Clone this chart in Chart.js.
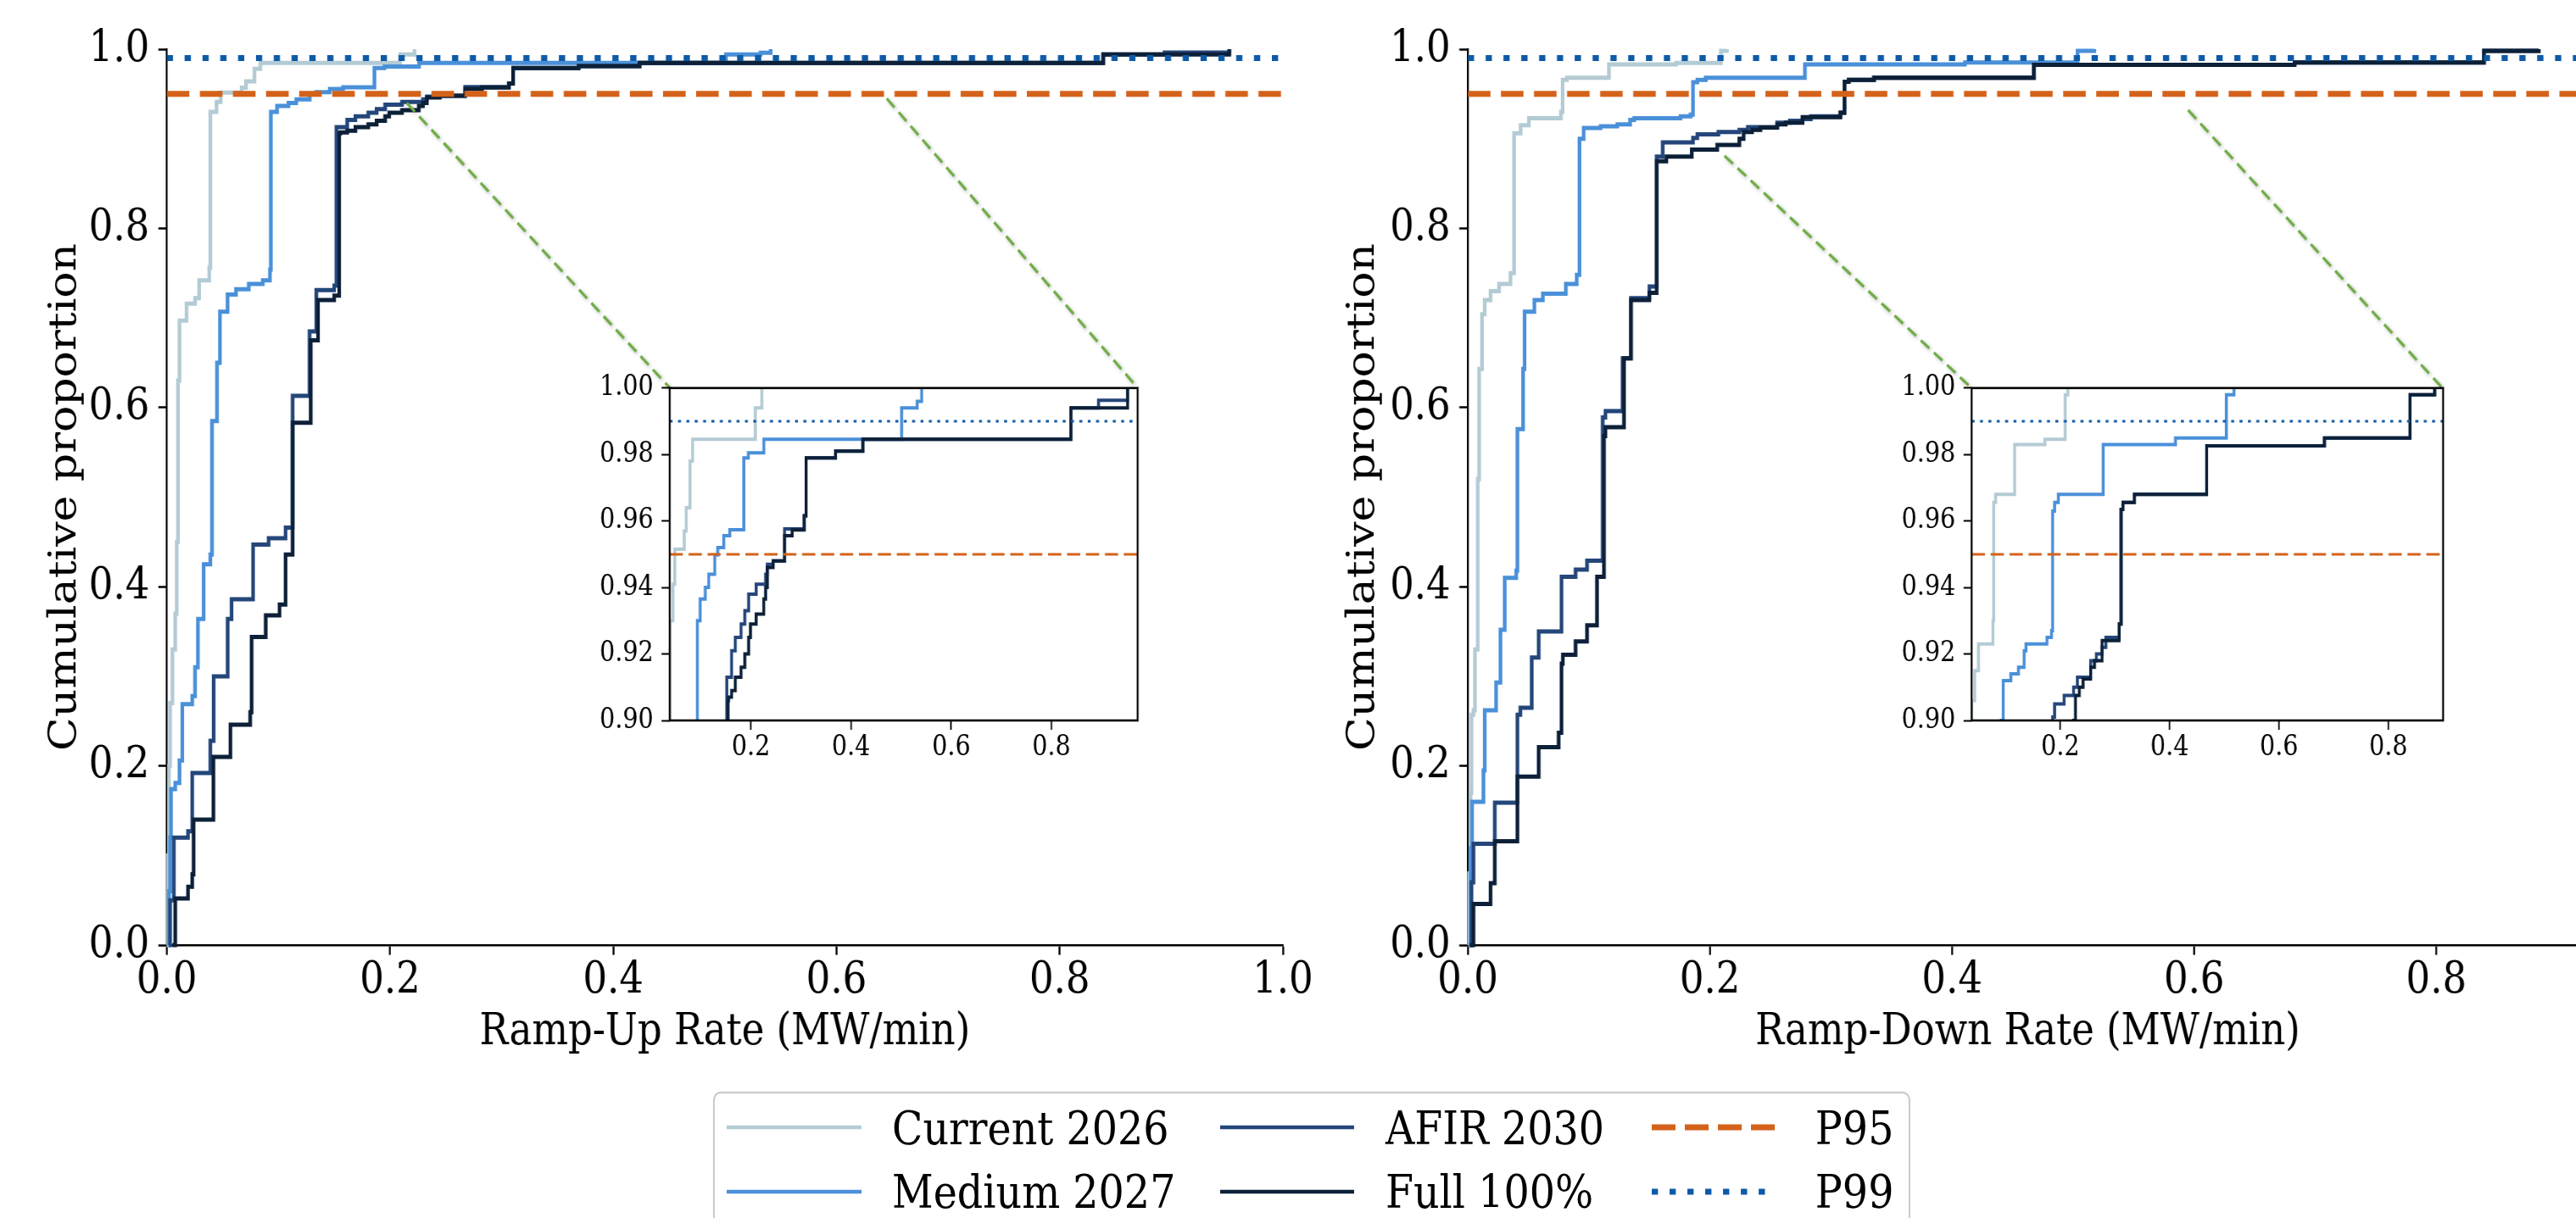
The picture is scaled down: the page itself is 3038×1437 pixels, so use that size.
<!DOCTYPE html>
<html>
<head>
<meta charset="utf-8">
<script src="https://cdn.jsdelivr.net/npm/chart.js@4.4.0/dist/chart.umd.min.js"></script>
<style>
html, body { margin: 0; padding: 0; background: #fff; overflow: hidden; width: 3038px; height: 1437px; }
#fig { position: absolute; left: 0; top: 0; width: 3512px; height: 1437px; transform: scale(0.865, 1); transform-origin: 0 0; }
#fig canvas { position: absolute; }
#fig svg { position: absolute; left: 0; top: 0; }
</style>
</head>
<body>
<div id="fig"></div>
<script>
// figure is laid out wide, then squeezed horizontally like the original
const FONT = 'DejaVu Serif';

const seriesNames = ['Current 2026', 'Medium 2027', 'AFIR 2030', 'Full 100%'];
const seriesColors = ['#b3cbd4', '#4a90d9', '#24467a', '#0c2038'];
const p95Color = '#d4621a';
const p99Color = '#0d5aa7';
const connColor = '#70ad47';
const p95 = 0.95;
const p99 = 0.99;

// ---- Ramp-Up: empirical CDF steps ----
const upCurrentX = [0.000, 0.001, 0.002, 0.003, 0.005, 0.0076, 0.0089, 0.010, 0.0114, 0.0177, 0.0253, 0.029, 0.038, 0.039, 0.0445, 0.0483, 0.067, 0.071, 0.0785, 0.0838, 0.209, 0.222];
const upCurrentY = [0.0, 0.10, 0.20, 0.27, 0.33, 0.37, 0.45, 0.63, 0.697, 0.716, 0.722, 0.742, 0.756, 0.93, 0.941, 0.9515, 0.957, 0.964, 0.978, 0.9846, 0.994, 1.0];

const upMediumX = [0.001, 0.002, 0.003, 0.0038, 0.0076, 0.0114, 0.0139, 0.0228, 0.0253, 0.0279, 0.033, 0.039, 0.0405, 0.045, 0.0476, 0.0544, 0.062, 0.0734, 0.086, 0.0924, 0.0932, 0.0988, 0.109, 0.116, 0.128, 0.134, 0.146, 0.158, 0.186, 0.195, 0.226, 0.501, 0.532, 0.541];
const upMediumY = [0.0, 0.06, 0.12, 0.174, 0.181, 0.206, 0.269, 0.278, 0.31, 0.364, 0.425, 0.436, 0.585, 0.65, 0.707, 0.726, 0.732, 0.738, 0.742, 0.754, 0.93, 0.9365, 0.94, 0.944, 0.9498, 0.952, 0.9556, 0.9574, 0.979, 0.9805, 0.9846, 0.994, 0.996, 1.0];

const upAfirX = [0.002, 0.003, 0.0063, 0.019, 0.0228, 0.039, 0.042, 0.0545, 0.058, 0.0773, 0.0912, 0.1064, 0.1127, 0.1279, 0.134, 0.150, 0.152, 0.1616, 0.169, 0.1805, 0.188, 0.1956, 0.2107, 0.2295, 0.233, 0.2446, 0.2673, 0.3065, 0.3103, 0.369, 0.4236, 0.839, 0.894, 0.952];
const upAfirY = [0.0, 0.05, 0.12, 0.127, 0.192, 0.228, 0.30, 0.364, 0.386, 0.447, 0.454, 0.466, 0.613, 0.685, 0.731, 0.736, 0.913, 0.921, 0.925, 0.929, 0.933, 0.938, 0.941, 0.944, 0.947, 0.948, 0.9576, 0.9616, 0.979, 0.981, 0.9846, 0.994, 0.9963, 1.0];

const upFullX = [0.005, 0.0076, 0.019, 0.0228, 0.024, 0.0418, 0.057, 0.0747, 0.076, 0.0886, 0.101, 0.1064, 0.1127, 0.129, 0.1355, 0.150, 0.1545, 0.1555, 0.1616, 0.169, 0.1805, 0.188, 0.1956, 0.1993, 0.2107, 0.2258, 0.2295, 0.233, 0.2446, 0.2673, 0.2824, 0.3065, 0.3103, 0.369, 0.4236, 0.839, 0.952];
const upFullY = [0.0, 0.052, 0.065, 0.079, 0.14, 0.21, 0.246, 0.26, 0.344, 0.368, 0.38, 0.436, 0.583, 0.675, 0.72, 0.725, 0.906, 0.907, 0.909, 0.913, 0.916, 0.920, 0.925, 0.929, 0.932, 0.9365, 0.94, 0.946, 0.948, 0.9556, 0.9573, 0.9616, 0.979, 0.981, 0.9846, 0.994, 1.0];

// ---- Ramp-Down ----
const downCurrentX = [0.0005, 0.001, 0.0023, 0.003, 0.0047, 0.0059, 0.0082, 0.0094, 0.0117, 0.014, 0.0188, 0.0258, 0.0352, 0.0382, 0.0436, 0.0505, 0.0769, 0.0783, 0.0818, 0.1166, 0.172, 0.209, 0.214];
const downCurrentY = [0.0, 0.08, 0.17, 0.257, 0.262, 0.33, 0.52, 0.643, 0.704, 0.72, 0.73, 0.738, 0.75, 0.906, 0.915, 0.923, 0.930, 0.9656, 0.968, 0.983, 0.9846, 0.998, 1.0];

const downMediumX = [0.001, 0.0023, 0.0035, 0.0129, 0.014, 0.0234, 0.027, 0.0305, 0.040, 0.041, 0.0457, 0.0469, 0.055, 0.062, 0.081, 0.090, 0.0922, 0.0957, 0.1096, 0.1235, 0.134, 0.1374, 0.1757, 0.184, 0.186, 0.1896, 0.1965, 0.2785, 0.4106, 0.5037, 0.5176];
const downMediumY = [0.0, 0.108, 0.16, 0.195, 0.262, 0.293, 0.352, 0.41, 0.418, 0.576, 0.643, 0.707, 0.72, 0.727, 0.738, 0.748, 0.90, 0.912, 0.914, 0.916, 0.921, 0.923, 0.925, 0.927, 0.963, 0.9656, 0.968, 0.983, 0.985, 0.998, 1.0];

const downAfirX = [0.001, 0.003, 0.0047, 0.0223, 0.041, 0.0434, 0.0528, 0.0586, 0.0774, 0.089, 0.0985, 0.1114, 0.1137, 0.1278, 0.1348, 0.150, 0.156, 0.161, 0.186, 0.1896, 0.207, 0.2243, 0.2313, 0.2556, 0.266, 0.2764, 0.2834, 0.3077, 0.3112, 0.3147, 0.3355, 0.4676, 0.683, 0.8394, 0.8846];
const downAfirY = [0.0, 0.07, 0.113, 0.159, 0.257, 0.265, 0.321, 0.35, 0.411, 0.419, 0.429, 0.589, 0.596, 0.655, 0.722, 0.735, 0.88, 0.896, 0.901, 0.905, 0.9075, 0.91, 0.913, 0.918, 0.92, 0.922, 0.925, 0.929, 0.9635, 0.9656, 0.968, 0.9826, 0.985, 0.998, 1.0];

const downFullX = [0.002, 0.0047, 0.0188, 0.0223, 0.041, 0.0586, 0.075, 0.0774, 0.0785, 0.089, 0.0985, 0.1067, 0.1125, 0.1137, 0.129, 0.1348, 0.150, 0.156, 0.164, 0.185, 0.206, 0.2243, 0.2278, 0.2348, 0.2417, 0.2556, 0.2626, 0.2764, 0.3077, 0.3112, 0.3147, 0.3355, 0.4676, 0.683, 0.8394, 0.8846];
const downFullY = [0.0, 0.046, 0.069, 0.116, 0.188, 0.221, 0.237, 0.314, 0.324, 0.339, 0.357, 0.411, 0.568, 0.578, 0.655, 0.72, 0.728, 0.875, 0.880, 0.888, 0.893, 0.90, 0.9075, 0.91, 0.9125, 0.916, 0.918, 0.924, 0.929, 0.9635, 0.9656, 0.968, 0.9826, 0.985, 0.998, 1.0];

// ---- axes / ticks ----
const upXMax = 1.0;
const downXMax = 0.925;
const upTicks = [0.0, 0.2, 0.4, 0.6, 0.8, 1.0];
const downTicks = [0.0, 0.2, 0.4, 0.6, 0.8];
const mainYTicks = [0.0, 0.2, 0.4, 0.6, 0.8, 1.0];
const insetYTicks = [0.90, 0.92, 0.94, 0.96, 0.98, 1.00];
const insetXTicks = [0.2, 0.4, 0.6, 0.8];
const upInsetRange = [0.038, 0.972];
const downInsetRange = [0.038, 0.90];
const insetYRange = [0.90, 1.00];

// where the green zoom connectors start (data coords of the main axes)
const upConnStart = [[0.215, 0.940], [0.645, 0.945]];
const downConnStart = [[0.212, 0.881], [0.595, 0.932]];

const upSeries = [[upCurrentX, upCurrentY], [upMediumX, upMediumY], [upAfirX, upAfirY], [upFullX, upFullY]];
const downSeries = [[downCurrentX, downCurrentY], [downMediumX, downMediumY], [downAfirX, downAfirY], [downFullX, downFullY]];

const pts = (xs, ys) => xs.map((x, i) => ({ x: x, y: ys[i] }));

const fig = document.getElementById('fig');
function addCanvas(left, top, w, h) {
    const c = document.createElement('canvas');
    c.width = w; c.height = h;
    c.style.left = left + 'px'; c.style.top = top + 'px';
    c.style.width = w + 'px'; c.style.height = h + 'px';
    fig.appendChild(c);
    return c;
}

// canvases (layout px, before the horizontal squeeze)
const mainUpPos = { left: 0, top: 0, w: 1800, h: 1260 };
const mainDownPos = { left: 1800, top: 0, w: 1800, h: 1260 };
const insetUpPos = { left: 803.3, top: 427, w: 768.1, h: 483 };
const insetDownPos = { left: 2578, top: 427, w: 772.6, h: 483 };

const cMainUp = addCanvas(mainUpPos.left, mainUpPos.top, mainUpPos.w, mainUpPos.h);
const cMainDown = addCanvas(mainDownPos.left, mainDownPos.top, mainDownPos.w, mainDownPos.h);
const cInsetUp = addCanvas(insetUpPos.left, insetUpPos.top, insetUpPos.w, insetUpPos.h);
const cInsetDown = addCanvas(insetDownPos.left, insetDownPos.top, insetDownPos.w, insetDownPos.h);

function buildDatasets(series, xMin, xMax, inset) {
    const lw = inset ? 4 : 5;
    // ECDF: hold previous level, then jump at each x (step-before in Chart.js terms)
    const ds = series.map((s, i) => ({
        label: seriesNames[i],
        data: pts(s[0], s[1]),
        borderColor: seriesColors[i],
        borderWidth: lw,
        stepped: 'before',
        fill: false,
        order: 10 - i,
        clip: inset ? 0 : { left: 3, top: 6, right: 0, bottom: 3 }
    }));
    ds.push({
        label: 'P95',
        data: [{ x: xMin, y: p95 }, { x: xMax, y: p95 }],
        borderColor: p95Color,
        borderWidth: inset ? 3 : 7,
        borderDash: inset ? [18, 7.8] : [30.8, 14.3],
        order: 2
    });
    ds.push({
        label: 'P99',
        data: [{ x: xMin, y: p99 }, { x: xMax, y: p99 }],
        borderColor: p99Color,
        borderWidth: inset ? 3 : 7,
        borderDash: inset ? [4, 7.4] : [8.5, 15.8],
        order: 1
    });
    return ds;
}

const fixedTicks = arr => (s => { s.ticks = arr.map(v => ({ value: v })); });

function insetChart(canvas, series, range) {
    return new Chart(canvas.getContext('2d'), {
        type: 'line',
        data: { datasets: buildDatasets(series, range[0], range[1], true) },
        options: {
            responsive: false,
            animation: false,
            devicePixelRatio: 1,
            layout: { padding: { top: 20, right: 20, left: 0, bottom: 0 } },
            elements: { point: { radius: 0 }, line: { tension: 0, borderCapStyle: 'butt' } },
            plugins: { legend: { display: false }, tooltip: { enabled: false } },
            scales: {
                x: {
                    type: 'linear', min: range[0], max: range[1],
                    afterFit: s => { s.height = 60; },
                    afterBuildTicks: fixedTicks(insetXTicks),
                    grid: { drawOnChartArea: false, tickLength: 11, tickWidth: 2, tickColor: '#000' },
                    border: { display: false },
                    ticks: { color: '#000', font: { family: FONT, size: 33 }, padding: 2, maxRotation: 0, autoSkip: false,
                             callback: v => v.toFixed(1) }
                },
                y: {
                    type: 'linear', min: insetYRange[0], max: insetYRange[1],
                    afterFit: s => { s.width = 110; },
                    afterBuildTicks: fixedTicks(insetYTicks),
                    grid: { drawOnChartArea: false, tickLength: 11, tickWidth: 2, tickColor: '#000' },
                    border: { display: false },
                    ticks: { color: '#000', font: { family: FONT, size: 33 }, padding: 11, autoSkip: false,
                             callback: v => v.toFixed(2) }
                }
            }
        },
        plugins: [{
            id: 'insetFrame',
            beforeDatasetsDraw(chart) {
                const a = chart.chartArea, ctx = chart.ctx;
                ctx.save();
                ctx.fillStyle = '#fff';
                ctx.fillRect(a.left, a.top, a.right - a.left, a.bottom - a.top);
                ctx.restore();
            },
            afterDatasetsDraw(chart) {
                const a = chart.chartArea, ctx = chart.ctx;
                ctx.save();
                ctx.strokeStyle = '#000';
                ctx.lineWidth = 2.6;
                ctx.strokeRect(a.left, a.top, a.right - a.left, a.bottom - a.top);
                ctx.restore();
            }
        }]
    });
}

function mainChart(canvas, pos, series, xMax, ticks, title, yWidth, titlePad, padRight, inset, insetPos, connStart) {
    return new Chart(canvas.getContext('2d'), {
        type: 'line',
        data: { datasets: buildDatasets(series, 0, xMax, false) },
        options: {
            responsive: false,
            animation: false,
            devicePixelRatio: 1,
            layout: { padding: { top: 58, right: padRight, left: 0, bottom: 0 } },
            elements: { point: { radius: 0 }, line: { tension: 0, borderCapStyle: 'butt' } },
            plugins: { legend: { display: false }, tooltip: { enabled: false } },
            scales: {
                x: {
                    type: 'linear', min: 0, max: xMax,
                    afterFit: s => { s.height = 145; },
                    afterBuildTicks: fixedTicks(ticks),
                    grid: { drawOnChartArea: false, tickLength: 11.6, tickWidth: 2.5, tickColor: '#000' },
                    border: { display: true, color: '#000', width: 2.5 },
                    ticks: { color: '#000', font: { family: FONT, size: 52 }, padding: 0, maxRotation: 0, autoSkip: false,
                             callback: v => v.toFixed(1) },
                    title: { display: true, text: title, color: '#000', font: { family: FONT, size: 52 },
                             padding: { top: 0, bottom: 10 } }
                },
                y: {
                    type: 'linear', min: 0, max: 1.0,
                    afterFit: s => { s.width = yWidth; },
                    afterBuildTicks: fixedTicks(mainYTicks),
                    grid: { drawOnChartArea: false, tickLength: 11.6, tickWidth: 2.5, tickColor: '#000' },
                    border: { display: true, color: '#000', width: 2.5 },
                    ticks: { color: '#000', font: { family: FONT, size: 52 }, padding: 12, autoSkip: false,
                             callback: v => v.toFixed(1) },
                    title: { display: true, text: 'Cumulative proportion', color: '#000', font: { family: FONT, size: 52 },
                             padding: { top: titlePad, bottom: 0 } }
                }
            }
        },
        plugins: [{
            id: 'zoomConnectors',
            afterDatasetsDraw(chart) {
                const ctx = chart.ctx, a = inset.chartArea;
                const dx = insetPos.left - pos.left, dy = insetPos.top - pos.top;
                const ends = [[a.left + dx, a.top + dy], [a.right + dx, a.top + dy]];
                ctx.save();
                ctx.strokeStyle = connColor;
                ctx.lineWidth = 3.5;
                ctx.setLineDash([15, 8]);
                ctx.shadowColor = 'rgba(0,0,0,0.28)';
                ctx.shadowBlur = 5;
                ctx.shadowOffsetX = 2;
                ctx.shadowOffsetY = 2;
                connStart.forEach((p, i) => {
                    ctx.beginPath();
                    ctx.moveTo(chart.scales.x.getPixelForValue(p[0]), chart.scales.y.getPixelForValue(p[1]));
                    ctx.lineTo(ends[i][0], ends[i][1]);
                    ctx.stroke();
                });
                ctx.restore();
            }
        }]
    });
}

const insetUp = insetChart(cInsetUp, upSeries, upInsetRange);
const insetDown = insetChart(cInsetDown, downSeries, downInsetRange);
mainChart(cMainUp, mainUpPos, upSeries, upXMax, upTicks, 'Ramp-Up Rate (MW/min)', 227.4, 58, 50.9, insetUp, insetUpPos, upConnStart);
mainChart(cMainDown, mainDownPos, downSeries, downXMax, downTicks, 'Ramp-Down Rate (MW/min)', 201.2, 28, 72, insetDown, insetDownPos, downConnStart);

// ---- shared legend below the panels (3 columns x 2 rows) ----
const legendItems = [
    { name: seriesNames[0], color: seriesColors[0], w: 4.5, dash: '' },
    { name: seriesNames[1], color: seriesColors[1], w: 4.5, dash: '' },
    { name: seriesNames[2], color: seriesColors[2], w: 4.5, dash: '' },
    { name: seriesNames[3], color: seriesColors[3], w: 4.5, dash: '' },
    { name: 'P95', color: p95Color, w: 7, dash: '32.4 12.7' },
    { name: 'P99', color: p99Color, w: 7, dash: '8.5 15.8' }
];
const legCols = [
    { x1: 990.8, x2: 1174.6, tx: 1216.2 },
    { x1: 1663.6, x2: 1846.2, tx: 1889 },
    { x1: 2252, x2: 2422, tx: 2475 }
];
const legRows = [{ ly: 1330, ty: 1350 }, { ly: 1406, ty: 1425 }];
let svg = '<svg xmlns="http://www.w3.org/2000/svg" width="3512" height="1437">';
svg += '<rect x="973.4" y="1289" width="1630" height="200" rx="9" ry="9" fill="#fff" stroke="#cccccc" stroke-width="2.5"/>';
legendItems.forEach((it, i) => {
    const col = legCols[Math.floor(i / 2)], row = legRows[i % 2];
    svg += '<line x1="' + col.x1 + '" y1="' + row.ly + '" x2="' + col.x2 + '" y2="' + row.ly + '" stroke="' + it.color +
        '" stroke-width="' + it.w + '"' + (it.dash ? ' stroke-dasharray="' + it.dash + '"' : '') + '/>';
    svg += '<text x="' + col.tx + '" y="' + row.ty + '" font-family="DejaVu Serif" font-size="55" fill="#000">' + it.name + '</text>';
});
svg += '</svg>';
fig.insertAdjacentHTML('beforeend', svg);
</script>
</body>
</html>
